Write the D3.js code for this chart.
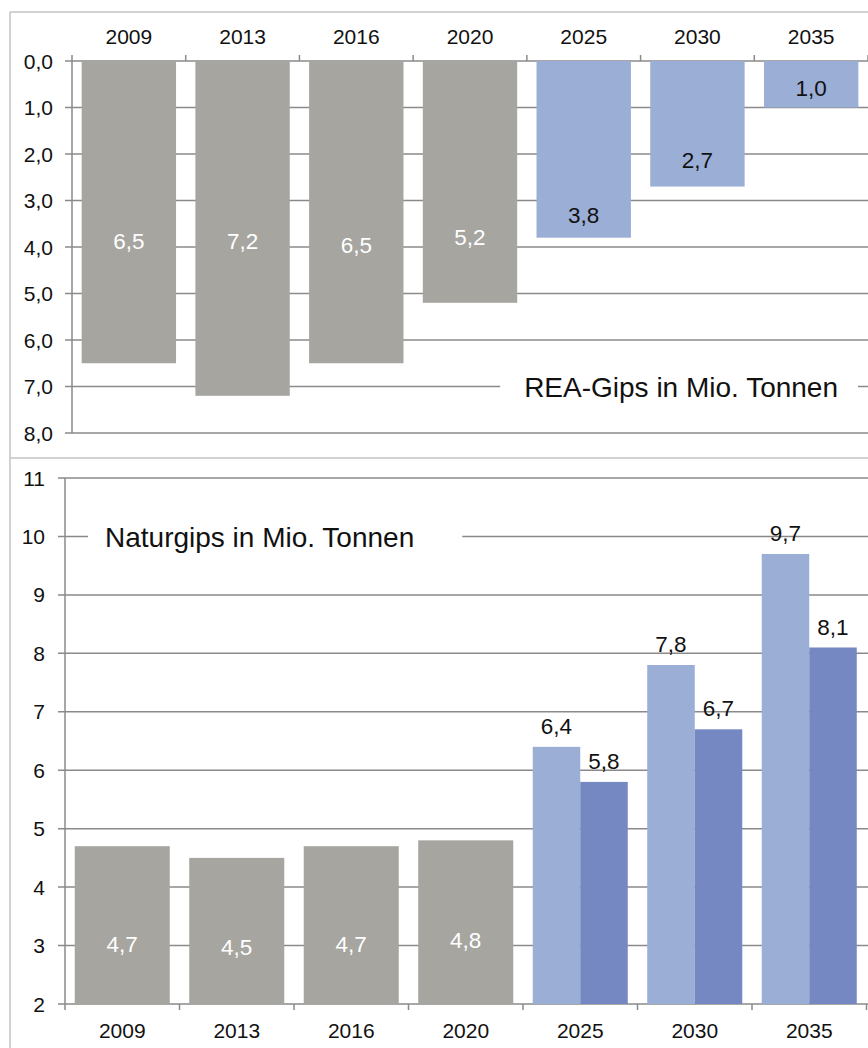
<!DOCTYPE html>
<html><head><meta charset="utf-8">
<script src="https://cdn.jsdelivr.net/npm/d3@7"></script>
<style>body{margin:0;background:#fff}svg{display:block;font-family:"Liberation Sans",Arial,sans-serif}</style>
</head><body>
<script>
const years = ["2009","2013","2016","2020","2025","2030","2035"];
// Top: REA-Gips
const reaValues = [6.5, 7.2, 6.5, 5.2, 3.8, 2.7, 1.0];
const reaLabelAt = [3.87, 3.87, 3.96, 3.78, 3.31, 2.13, 0.58];
const reaTicks = [0,1,2,3,4,5,6,7,8];
// Bottom: Naturgips
const naturHist = [4.7, 4.5, 4.7, 4.8];          // 2009-2020
const naturHistLabelAt = [3.03, 2.97, 3.03, 3.09];
const naturHigh = [6.4, 7.8, 9.7];               // 2025-2035 light
const naturLow = [5.8, 6.7, 8.1];                // 2025-2035 dark
const naturTicks = [2,3,4,5,6,7,8,9,10,11];

const W = 868, H = 1048;
const grey = "#a6a5a0", lightBlue = "#9baed6", darkBlue = "#7588c1";
const gridC = "#8a8a8a", borderC = "#c3c3c3";
const fmt = v => d3.format(".1f")(v).replace(".", ",");

const svg = d3.select("body").append("svg").attr("width", W).attr("height", H);

// panel borders
svg.append("line").attr("x1",10).attr("x2",10).attr("y1",12).attr("y2",H).attr("stroke",borderC).attr("stroke-width",1.5);
svg.append("line").attr("x1",10).attr("x2",W).attr("y1",12).attr("y2",12).attr("stroke",borderC).attr("stroke-width",1.5);
svg.append("line").attr("x1",10).attr("x2",W).attr("y1",458).attr("y2",458).attr("stroke",borderC).attr("stroke-width",1.5);

// ---------- TOP ----------
const xT = d3.scaleBand().domain(years).range([72, 868]).paddingInner(0.17).paddingOuter(0.085);
const yT = d3.scaleLinear().domain([0, 8]).range([61, 433]);
const gT = svg.append("g");

gT.selectAll("line.grid").data(reaTicks).join("line")
  .attr("x1", 65).attr("x2", W).attr("y1", d => yT(d)).attr("y2", d => yT(d))
  .attr("stroke", gridC).attr("stroke-width", 1.5);

gT.selectAll("text.yl").data(reaTicks).join("text")
  .attr("x", 53).attr("y", d => yT(d)).attr("dy", "0.36em").attr("text-anchor", "end")
  .attr("font-size", 21).attr("fill", "#111").text(d => fmt(d));

// title with white background
const tTitle = gT.append("text").attr("x", 838).attr("y", yT(7)).attr("dy", "0.36em")
  .attr("text-anchor", "end").attr("font-size", 28).attr("fill", "#111").text("REA-Gips in Mio. Tonnen");
const bbT = tTitle.node().getBBox();
gT.insert("rect", () => tTitle.node()).attr("x", bbT.x - 24).attr("y", bbT.y).attr("width", bbT.width + 44).attr("height", bbT.height).attr("fill", "#fff");

gT.selectAll("rect.bar").data(years).join("rect")
  .attr("x", d => xT(d)).attr("width", xT.bandwidth())
  .attr("y", yT(0)).attr("height", (d, i) => yT(reaValues[i]) - yT(0))
  .attr("fill", (d, i) => i < 4 ? grey : lightBlue);

gT.selectAll("text.val").data(years).join("text")
  .attr("x", d => xT(d) + xT.bandwidth() / 2).attr("y", (d, i) => yT(reaLabelAt[i])).attr("dy", "0.36em")
  .attr("text-anchor", "middle").attr("font-size", 22.5)
  .attr("fill", (d, i) => i < 4 ? "#fff" : "#111").text((d, i) => fmt(reaValues[i]));

// axes
gT.append("line").attr("x1", 72).attr("x2", 72).attr("y1", yT(0)).attr("y2", yT(8)).attr("stroke", gridC).attr("stroke-width", 1.5);
const bT = d3.range(years.length + 1).map(i => 72 + i * xT.step());
gT.selectAll("line.xt").data(bT).join("line")
  .attr("x1", d => d).attr("x2", d => d).attr("y1", yT(0)).attr("y2", yT(0) - 6)
  .attr("stroke", gridC).attr("stroke-width", 1.5);
gT.selectAll("text.xl").data(years).join("text")
  .attr("x", d => xT(d) + xT.bandwidth() / 2).attr("y", 36).attr("dy", "0.36em")
  .attr("text-anchor", "middle").attr("font-size", 21).attr("fill", "#111").text(d => d);

// ---------- BOTTOM ----------
const xB = d3.scaleBand().domain(years).range([65, 866.5]).paddingInner(0.17).paddingOuter(0.085);
const yB = d3.scaleLinear().domain([2, 11]).range([1004, 478]);
const gB = svg.append("g");

gB.selectAll("line.grid").data(naturTicks).join("line")
  .attr("x1", 58).attr("x2", W).attr("y1", d => yB(d)).attr("y2", d => yB(d))
  .attr("stroke", gridC).attr("stroke-width", 1.5);
gB.selectAll("text.yl").data(naturTicks).join("text")
  .attr("x", 45).attr("y", d => yB(d)).attr("dy", "0.36em").attr("text-anchor", "end")
  .attr("font-size", 21).attr("fill", "#111").text(d => d);

const bTitle = gB.append("text").attr("x", 105).attr("y", yB(10)).attr("dy", "0.36em")
  .attr("font-size", 28).attr("fill", "#111").text("Naturgips in Mio. Tonnen");
const bbB = bTitle.node().getBBox();
gB.insert("rect", () => bTitle.node()).attr("x", bbB.x - 17).attr("y", bbB.y).attr("width", bbB.width + 65).attr("height", bbB.height).attr("fill", "#fff");

const histYears = years.slice(0, 4), futYears = years.slice(4);
gB.selectAll("rect.hist").data(histYears).join("rect")
  .attr("x", d => xB(d)).attr("width", xB.bandwidth())
  .attr("y", (d, i) => yB(naturHist[i])).attr("height", (d, i) => yB(2) - yB(naturHist[i]))
  .attr("fill", grey);
gB.selectAll("text.hv").data(histYears).join("text")
  .attr("x", d => xB(d) + xB.bandwidth() / 2).attr("y", (d, i) => yB(naturHistLabelAt[i])).attr("dy", "0.36em")
  .attr("text-anchor", "middle").attr("font-size", 22.5).attr("fill", "#fff").text((d, i) => fmt(naturHist[i]));

const sub = d3.scaleBand().domain(["high", "low"]).range([0, xB.bandwidth()]);
const futSeries = [{k: "high", v: naturHigh, c: lightBlue}, {k: "low", v: naturLow, c: darkBlue}];
futSeries.forEach(s => {
  gB.selectAll("rect.f" + s.k).data(futYears).join("rect")
    .attr("x", d => xB(d) + sub(s.k)).attr("width", sub.bandwidth())
    .attr("y", (d, i) => yB(s.v[i])).attr("height", (d, i) => yB(2) - yB(s.v[i]))
    .attr("fill", s.c);
  gB.selectAll("text.f" + s.k).data(futYears).join("text")
    .attr("x", d => xB(d) + sub(s.k) + sub.bandwidth() / 2).attr("y", (d, i) => yB(s.v[i]) - 21).attr("dy", "0.36em")
    .attr("text-anchor", "middle").attr("font-size", 22.5).attr("fill", "#111").text((d, i) => fmt(s.v[i]));
});

gB.append("line").attr("x1", 65).attr("x2", 65).attr("y1", yB(11)).attr("y2", yB(2)).attr("stroke", gridC).attr("stroke-width", 1.5);
const bB = d3.range(years.length + 1).map(i => 65 + i * xB.step());
gB.selectAll("line.xt").data(bB).join("line")
  .attr("x1", d => d).attr("x2", d => d).attr("y1", yB(2)).attr("y2", yB(2) + 6)
  .attr("stroke", gridC).attr("stroke-width", 1.5);
gB.selectAll("text.xl").data(years).join("text")
  .attr("x", d => xB(d) + xB.bandwidth() / 2).attr("y", 1030).attr("dy", "0.36em")
  .attr("text-anchor", "middle").attr("font-size", 21).attr("fill", "#111").text(d => d);
</script>
</body></html>
